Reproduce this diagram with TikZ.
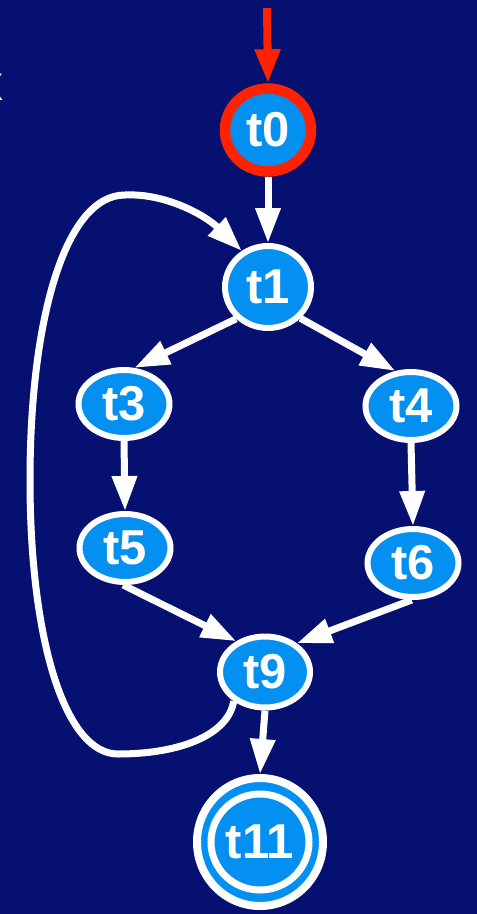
\documentclass[tikz,border=0pt]{standalone}
\usepackage{fontspec}
\setmainfont{Liberation Sans}
\usetikzlibrary{arrows.meta,shapes.geometric}
\definecolor{bgnavy}{RGB}{6,16,112}
\definecolor{nodeblue}{RGB}{4,144,240}
\definecolor{redring}{RGB}{255,34,0}
\begin{document}
\begin{tikzpicture}[x=1pt,y=-1pt,
  state/.style={ellipse, draw=white, line width=6pt, fill=nodeblue, text=white,
    font=\bfseries\fontsize{49}{49}\selectfont, inner sep=0pt,
    minimum width=91pt, minimum height=68pt},
  edge/.style={draw=white, line width=7pt, -{Triangle[width=24pt,length=35pt]}},
  startedge/.style={draw=redring, line width=8pt, -{Triangle[width=24pt,length=34pt]}}]
\useasboundingbox (0,0) rectangle (477,914);
\fill[bgnavy] (0,0) rectangle (477,914);
\node[text=white, font=\fontsize{50}{50}\selectfont, anchor=base east, inner sep=0pt] (frag) at (4,100) {x};

\node[state, draw=redring, line width=10.5pt, minimum width=86pt, minimum height=83pt] (t0) at (268,130) {t0};
\node[state, minimum width=86pt, minimum height=82pt] (t1) at (268,287) {t1};
\node[state] (t3) at (124,404) {t3};
\node[state] (t4) at (411,406) {t4};
\node[state] (t5) at (125,548) {t5};
\node[state] (t6) at (413,563) {t6};
\node[state, minimum width=90pt, minimum height=71pt] (t9) at (265,672) {t9};
\node[state, line width=8pt, minimum width=126pt, minimum height=128pt] (t11) at (260,842) {};
\node[state, line width=7pt, minimum width=98pt, minimum height=96pt] (t11in) at (t11.center) {t11};

\coordinate (src) at (267,8);
\draw[startedge] (src) -- (t0.north);
\draw[edge] (t0.south) -- (t1.north);
\draw[edge] (t1.225) -- (t3.74);
\draw[edge] (t1.316) -- (t4.114);
\draw[edge] (t3.south) -- (t5.north);
\draw[edge] (t4.south) -- (t6.north);
\draw[edge] (t5.267) -- (t9.133);
\draw[edge] (t6.268) -- (t9.42);
\draw[edge] (t9.south) -- (t11.north);
\coordinate (lb) at (118,754);
\coordinate (ll) at (30,480);
\coordinate (lt) at (125,195);
\draw[edge] (t9.223) .. controls (228,735) and (180,754) .. (lb)
  .. controls (65,754) and (30,640) .. (ll)
  .. controls (30,320) and (65,195) .. (lt)
  .. controls (165,193) and (205,215) .. (t1.126);
\end{tikzpicture}
\end{document}
